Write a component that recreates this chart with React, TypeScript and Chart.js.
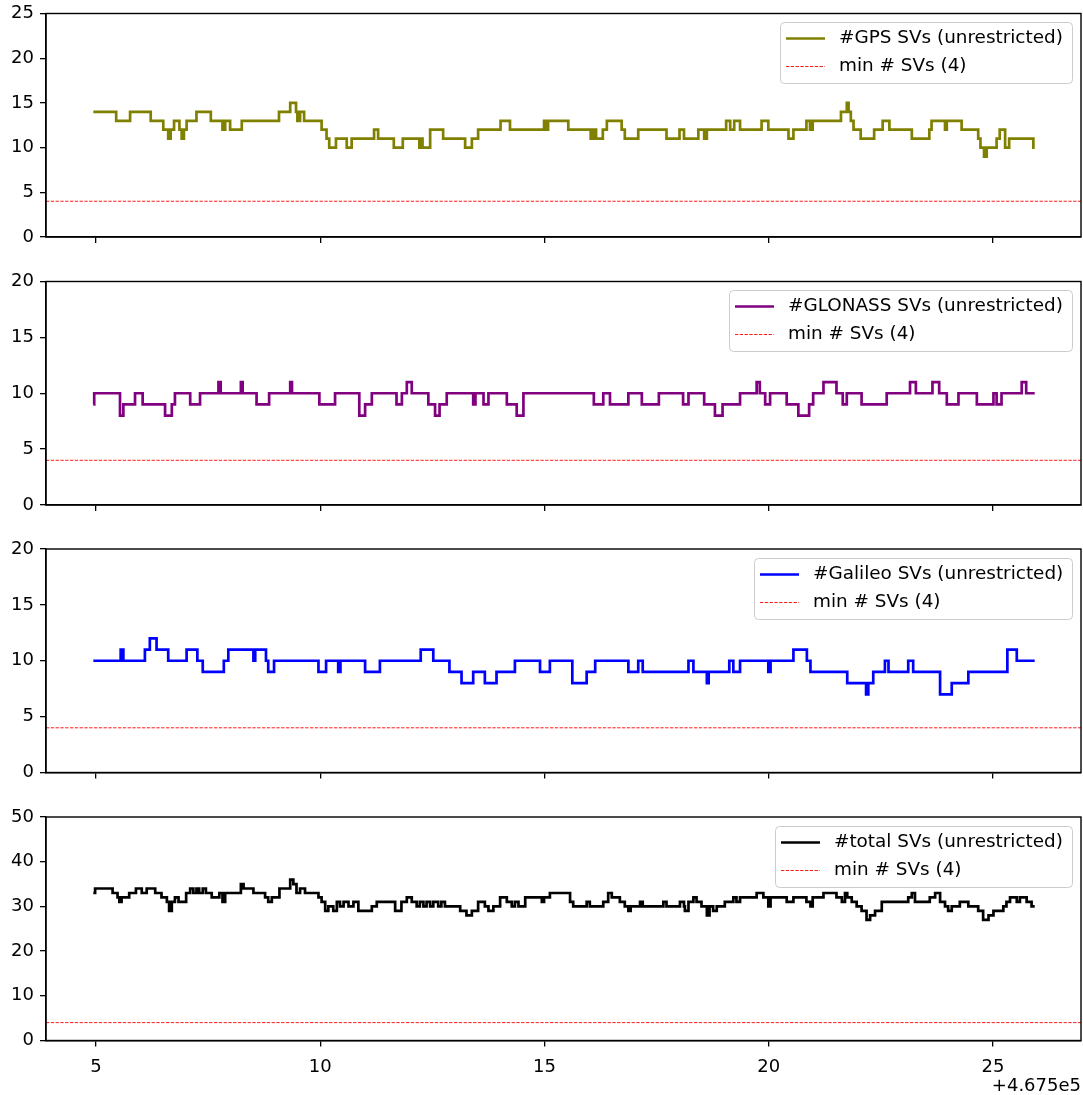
import React, { useEffect, useRef } from "react";
import { Chart, registerables } from "chart.js";
Chart.register(...registerables);

// x values are seconds relative to X_OFFSET (matplotlib offset notation)
const X_OFFSET = 467500;
const X_MIN = 3.885;
const X_MAX = 26.962;
const X_TICKS = [5, 10, 15, 20, 25];
const T_END = 25.93;
const MIN_SVS = 4;

// change points (time, count) for each series
const gpsT = [4.94, 5.45, 5.76, 6.22, 6.5, 6.61, 6.665, 6.74, 6.86, 6.91, 6.96, 7.02, 7.24, 7.56, 7.82, 7.88, 7.99, 8.25, 9.08, 9.33, 9.46, 9.49, 9.55, 9.64, 10.03, 10.14, 10.2, 10.35, 10.59, 10.7, 11.2, 11.29, 11.64, 11.84, 12.21, 12.25, 12.28, 12.45, 12.74, 13.23, 13.38, 13.52, 14.02, 14.23, 14.99, 15.03, 15.08, 15.53, 16.03, 16.09, 16.15, 16.3, 16.39, 16.72, 16.79, 17.09, 17.72, 18.01, 18.11, 18.43, 18.56, 18.62, 19.05, 19.14, 19.23, 19.36, 19.84, 19.99, 20.44, 20.55, 20.84, 20.92, 20.98, 21.61, 21.74, 21.78, 21.83, 21.89, 22.05, 22.35, 22.54, 22.69, 23.19, 23.58, 23.63, 23.93, 23.97, 24.3, 24.67, 24.72, 24.8, 24.86, 25.08, 25.15, 25.27, 25.36, 25.9];
const gpsV = [14, 13, 14, 13, 12, 11, 12, 13, 12, 11, 12, 13, 14, 13, 12, 13, 12, 13, 14, 15, 14, 13, 14, 13, 12, 11, 10, 11, 10, 11, 12, 11, 10, 11, 10, 11, 10, 12, 11, 10, 11, 12, 13, 12, 13, 12, 13, 12, 11, 12, 11, 12, 13, 12, 11, 12, 11, 12, 11, 12, 11, 12, 13, 12, 13, 12, 13, 12, 11, 12, 13, 12, 13, 14, 15, 14, 13, 12, 11, 12, 13, 12, 11, 12, 13, 12, 13, 12, 11, 10, 9, 10, 11, 12, 10, 11, 10];

const gloT = [4.94, 4.96, 5.535, 5.61, 5.87, 6.04, 6.54, 6.69, 6.76, 7.1, 7.32, 7.73, 7.78, 8.23, 8.27, 8.58, 8.86, 9.33, 9.37, 9.98, 10.33, 10.87, 11.0, 11.15, 11.7, 11.82, 11.93, 12.04, 12.41, 12.56, 12.66, 12.82, 13.41, 13.46, 13.64, 13.75, 14.16, 14.38, 14.53, 16.1, 16.31, 16.46, 16.87, 17.17, 17.55, 18.09, 18.21, 18.56, 18.8, 18.97, 19.36, 19.73, 19.8, 19.92, 20.03, 20.4, 20.66, 20.9, 20.99, 21.22, 21.51, 21.65, 21.74, 22.07, 22.63, 23.15, 23.28, 23.65, 23.8, 23.97, 24.23, 24.64, 25.01, 25.08, 25.19, 25.64, 25.74];
const gloV = [9, 10, 8, 9, 10, 9, 8, 9, 10, 9, 10, 11, 10, 11, 10, 9, 10, 11, 10, 9, 10, 8, 9, 10, 9, 10, 11, 10, 9, 8, 9, 10, 9, 10, 9, 10, 9, 8, 10, 9, 10, 9, 10, 9, 10, 9, 10, 9, 8, 9, 10, 11, 10, 9, 10, 9, 8, 9, 10, 11, 10, 9, 10, 9, 10, 11, 10, 11, 10, 9, 10, 9, 10, 9, 10, 11, 10];

const galT = [4.94, 5.55, 5.61, 6.09, 6.2, 6.35, 6.61, 7.02, 7.26, 7.38, 7.85, 7.95, 8.51, 8.55, 8.79, 8.84, 8.97, 9.96, 10.13, 10.4, 10.45, 11.0, 11.33, 12.24, 12.52, 12.88, 13.15, 13.41, 13.67, 13.93, 14.34, 14.9, 15.12, 15.62, 15.94, 16.13, 16.87, 17.09, 17.19, 18.21, 18.32, 18.62, 18.66, 19.12, 19.21, 19.36, 19.99, 20.04, 20.55, 20.85, 20.93, 21.75, 22.17, 22.22, 22.33, 22.59, 22.67, 23.11, 23.22, 23.82, 24.08, 24.45, 25.32, 25.53];
const galV = [10, 11, 10, 11, 12, 11, 10, 11, 10, 9, 10, 11, 10, 11, 10, 9, 10, 9, 10, 9, 10, 9, 10, 11, 10, 9, 8, 9, 8, 9, 10, 9, 10, 8, 9, 10, 9, 10, 9, 10, 9, 8, 9, 10, 9, 10, 9, 10, 11, 10, 9, 8, 7, 8, 9, 10, 9, 10, 9, 7, 8, 9, 11, 10];

const totT = [4.94, 4.98, 5.37, 5.48, 5.52, 5.57, 5.74, 5.89, 6.02, 6.13, 6.32, 6.46, 6.58, 6.63, 6.69, 6.76, 6.84, 7.01, 7.1, 7.17, 7.24, 7.3, 7.38, 7.45, 7.58, 7.75, 7.82, 7.88, 8.23, 8.29, 8.51, 8.77, 8.84, 8.92, 9.09, 9.33, 9.4, 9.47, 9.55, 9.66, 9.96, 10.03, 10.11, 10.18, 10.29, 10.37, 10.44, 10.52, 10.63, 10.74, 10.85, 11.15, 11.26, 11.67, 11.81, 11.93, 12.04, 12.15, 12.22, 12.3, 12.37, 12.45, 12.52, 12.63, 12.7, 12.78, 13.12, 13.26, 13.38, 13.52, 13.67, 13.75, 13.86, 14.01, 14.16, 14.27, 14.34, 14.42, 14.57, 14.94, 14.99, 15.12, 15.57, 15.64, 15.94, 16.01, 16.31, 16.42, 16.5, 16.68, 16.79, 16.87, 16.92, 17.13, 17.19, 17.65, 17.72, 18.02, 18.11, 18.13, 18.21, 18.32, 18.39, 18.5, 18.62, 18.68, 18.76, 18.84, 19.02, 19.21, 19.28, 19.36, 19.73, 19.88, 19.99, 20.04, 20.4, 20.55, 20.84, 20.93, 20.98, 21.22, 21.51, 21.63, 21.7, 21.75, 21.85, 21.96, 22.07, 22.18, 22.26, 22.37, 22.52, 23.11, 23.19, 23.26, 23.59, 23.71, 23.82, 23.93, 24.0, 24.08, 24.26, 24.45, 24.67, 24.78, 24.9, 25.01, 25.23, 25.3, 25.38, 25.53, 25.6, 25.75, 25.86];
const totV = [33, 34, 33, 32, 31, 32, 33, 34, 33, 34, 33, 32, 31, 29, 31, 32, 31, 33, 34, 33, 34, 33, 34, 33, 32, 33, 31, 33, 35, 34, 33, 32, 31, 32, 34, 36, 35, 33, 34, 33, 32, 31, 29, 30, 29, 31, 30, 31, 30, 31, 29, 30, 31, 29, 31, 32, 31, 30, 31, 30, 31, 30, 31, 30, 31, 30, 29, 28, 29, 31, 30, 29, 30, 32, 31, 30, 31, 30, 32, 31, 32, 33, 31, 30, 31, 30, 31, 33, 32, 31, 30, 29, 30, 31, 30, 31, 30, 31, 30, 29, 31, 32, 31, 30, 28, 30, 29, 30, 31, 32, 31, 32, 33, 32, 30, 32, 31, 32, 31, 30, 32, 33, 32, 31, 33, 32, 31, 30, 29, 27, 28, 29, 31, 32, 33, 31, 32, 33, 31, 30, 29, 30, 31, 30, 29, 27, 28, 29, 30, 31, 32, 31, 32, 31, 30];

const LABELS = ["#GPS SVs (unrestricted)", "#GLONASS SVs (unrestricted)", "#Galileo SVs (unrestricted)", "#total SVs (unrestricted)"];
const MIN_LABEL = "min # SVs (4)";
const Y_TICKS_GPS = [0, 5, 10, 15, 20, 25];
const Y_TICKS_GLO = [0, 5, 10, 15, 20];
const Y_TICKS_GAL = [0, 5, 10, 15, 20];
const Y_TICKS_TOT = [0, 10, 20, 30, 40, 50];

const FONT_FAMILY = '"DejaVu Sans", "Liberation Sans", sans-serif';
const FONT_SIZE = 18;
const LEGEND_FONT_SIZE = 18.4;
const W = 1083;
const PAD_TOP = 20;
const PLOT_H = 223.5;

type PanelCfg = {
  label: string;
  color: string;
  t: number[];
  v: number[];
  yTicks: number[];
  axTop: number;
  xH: number;
  showX: boolean;
};

const PANELS: PanelCfg[] = [
  { label: LABELS[0], color: "#808000", t: gpsT, v: gpsV, yTicks: Y_TICKS_GPS, axTop: 13.5, xH: 20, showX: false },
  { label: LABELS[1], color: "#800080", t: gloT, v: gloV, yTicks: Y_TICKS_GLO, axTop: 281.5, xH: 20, showX: false },
  { label: LABELS[2], color: "#0000ff", t: galT, v: galV, yTicks: Y_TICKS_GAL, axTop: 549, xH: 20, showX: false },
  { label: LABELS[3], color: "#000000", t: totT, v: totV, yTicks: Y_TICKS_TOT, axTop: 817, xH: 54.5, showX: true },
];

function stepPoints(t: number[], v: number[]) {
  const pts = t.map((x, i) => ({ x, y: v[i] }));
  pts.push({ x: T_END, y: v[v.length - 1] });
  return pts;
}

function Panel({ cfg }: { cfg: PanelCfg }) {
  const ref = useRef<HTMLCanvasElement>(null);
  const top0 = Math.round(cfg.axTop - PAD_TOP);
  const padTop = cfg.axTop - top0;
  const h = Math.round(padTop + PLOT_H + cfg.xH);
  const xH = h - padTop - PLOT_H;

  useEffect(() => {
    const canvas = ref.current!;
    const yMax = cfg.yTicks[cfg.yTicks.length - 1];
    const deco = {
      id: "deco",
      afterDraw(chart: any) {
        const ctx = chart.ctx as CanvasRenderingContext2D;
        const ca = chart.chartArea;
        ctx.save();
        // full box spines
        ctx.strokeStyle = "#000";
        ctx.lineWidth = 1.4;
        ctx.strokeRect(ca.left, ca.top, ca.right - ca.left, ca.bottom - ca.top);
        // legend
        ctx.font = `${LEGEND_FONT_SIZE}px ${FONT_FAMILY}`;
        const tw = Math.max(ctx.measureText(cfg.label).width, ctx.measureText(MIN_LABEL).width);
        const boxW = 59 + tw + 9;
        const boxH = 61;
        const right = Math.round(ca.right - 9);
        const top = Math.round(ca.top + 8.5);
        const left = Math.round(right - boxW);
        ctx.beginPath();
        ctx.roundRect(left + 0.5, top + 0.5, right - left, boxH, 4);
        ctx.fillStyle = "rgba(255,255,255,0.8)";
        ctx.fill();
        ctx.strokeStyle = "#cccccc";
        ctx.lineWidth = 1;
        ctx.stroke();
        const r1 = top + 16.5;
        const r2 = top + 44.5;
        ctx.beginPath();
        ctx.strokeStyle = cfg.color;
        ctx.lineWidth = 2.7;
        ctx.moveTo(left + 6, r1);
        ctx.lineTo(left + 45, r1);
        ctx.stroke();
        ctx.beginPath();
        ctx.strokeStyle = "#ff0000";
        ctx.lineWidth = 0.9;
        ctx.setLineDash([3.3, 1.5]);
        ctx.moveTo(left + 6, r2);
        ctx.lineTo(left + 45, r2);
        ctx.stroke();
        ctx.setLineDash([]);
        ctx.fillStyle = "#000";
        ctx.textAlign = "left";
        ctx.textBaseline = "middle";
        ctx.fillText(cfg.label, left + 59, r1);
        ctx.fillText(MIN_LABEL, left + 59, r2);
        if (cfg.showX) {
          ctx.font = `${FONT_SIZE}px ${FONT_FAMILY}`;
          ctx.textAlign = "right";
          ctx.textBaseline = "middle";
          ctx.fillText(`+${(X_OFFSET / 1e5).toFixed(3)}e5`, ca.right, ca.bottom + 46);
        }
        ctx.restore();
      },
    };

    const chart = new Chart(canvas, {
      type: "line",
      data: {
        datasets: [
          {
            label: MIN_LABEL,
            data: [
              { x: X_MIN, y: MIN_SVS },
              { x: X_MAX, y: MIN_SVS },
            ],
            borderColor: "#ff0000",
            borderWidth: 0.9,
            borderDash: [3.3, 1.5],
            pointRadius: 0,
            fill: false,
          },
          {
            label: cfg.label,
            data: stepPoints(cfg.t, cfg.v),
            borderColor: cfg.color,
            borderWidth: 2.7,
            stepped: true,
            pointRadius: 0,
            fill: false,
          },
        ],
      },
      options: {
        responsive: false,
        maintainAspectRatio: false,
        animation: false,
        events: [],
        layout: { padding: { left: 0, right: 2, top: padTop, bottom: 0 } },
        plugins: { legend: { display: false }, tooltip: { enabled: false }, title: { display: false } },
        scales: {
          x: {
            type: "linear",
            min: X_MIN,
            max: X_MAX,
            afterBuildTicks: (s: any) => {
              s.ticks = X_TICKS.map((v) => ({ value: v }));
            },
            afterFit: (s: any) => {
              s.height = xH;
            },
            grid: { display: true, drawOnChartArea: false, drawTicks: true, tickLength: 6, color: "#000", lineWidth: 1.3 },
            border: { display: true, color: "#000", width: 1.4 },
            ticks: {
              display: true,
              color: cfg.showX ? "#000" : "rgba(0,0,0,0)",
              padding: 10,
              maxRotation: 0,
              autoSkip: false,
              font: { family: FONT_FAMILY, size: FONT_SIZE },
              callback: (v: any) => String(v),
            },
          },
          y: {
            type: "linear",
            min: 0,
            max: yMax,
            afterBuildTicks: (s: any) => {
              s.ticks = cfg.yTicks.map((v) => ({ value: v }));
            },
            afterFit: (s: any) => {
              s.width = 46;
            },
            grid: { display: true, drawOnChartArea: false, drawTicks: true, tickLength: 6, color: "#000", lineWidth: 1.3 },
            border: { display: true, color: "#000", width: 1.4 },
            ticks: {
              color: "#000",
              padding: 6,
              autoSkip: false,
              font: { family: FONT_FAMILY, size: FONT_SIZE },
              callback: (v: any) => String(v),
            },
          },
        },
      },
      plugins: [deco],
    } as any);
    return () => chart.destroy();
  }, []);

  return (
    <canvas
      ref={ref}
      width={W}
      height={h}
      style={{ position: "absolute", left: 0, top: top0, width: W, height: h, display: "block" }}
    />
  );
}

export default function App() {
  return (
    <div style={{ position: "absolute", left: 0, top: 0, width: W, height: 1095, background: "#fff", overflow: "hidden" }}>
      {PANELS.map((p, i) => (
        <Panel key={i} cfg={p} />
      ))}
    </div>
  );
}
